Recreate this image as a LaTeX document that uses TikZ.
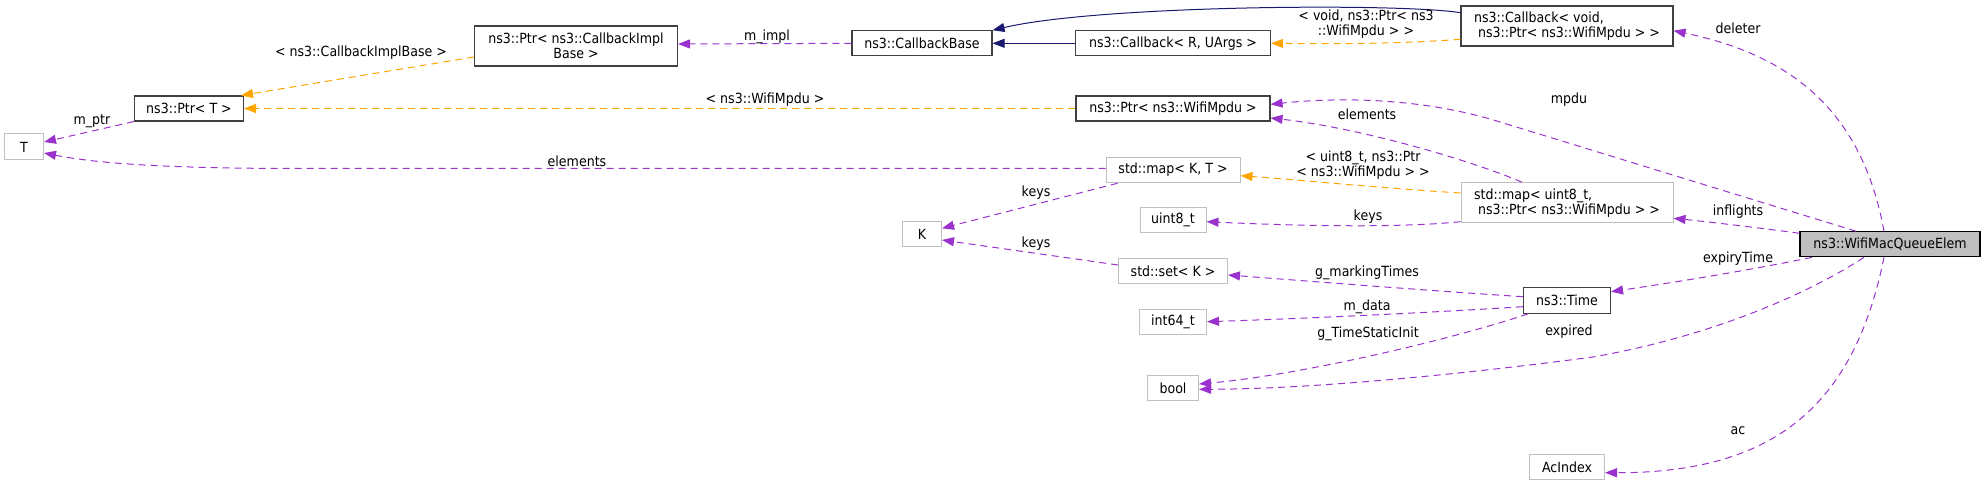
\documentclass[tikz,border=0pt]{standalone}
\usepackage{fontspec}
\setmainfont{DejaVu Sans}[FakeStretch=0.9]
\usepackage{tikz}
\usetikzlibrary{arrows.meta}

\definecolor{edgeviolet}{HTML}{9A32CD}
\definecolor{edgeorange}{HTML}{FFA500}
\definecolor{edgeblue}{HTML}{191970}
\definecolor{boxgrey}{HTML}{BFBFBF}
\definecolor{boxdark}{HTML}{404040}

\newcommand{\dgfont}{\fontsize{14}{15}\selectfont}

\tikzset{
  box/.style={draw=boxdark, line width=1.1pt, fill=white, inner sep=0pt, align=center, font=\dgfont},
  extbox/.style={box, draw=boxgrey, line width=1pt},
  mainbox/.style={box, draw=black, fill=boxgrey},
  lbl/.style={inner sep=0pt, align=center, font=\dgfont},
  uses/.style={draw=edgeviolet, line width=1pt, dash pattern=on 7pt off 5pt, -{Triangle[length=12pt,width=9pt]}},
  tmpl/.style={uses, draw=edgeorange},
  inh/.style={draw=edgeblue, line width=1pt, -{Triangle[length=12pt,width=9pt]}},
}

\begin{document}
\begin{tikzpicture}[x=1pt, y=-1pt]
    \useasboundingbox (0,0) rectangle (1985,486);

    % draw class boxes
    \node[extbox, minimum width=39pt, minimum height=26pt] (t) at (24,147) {T};
    \node[box, minimum width=109pt, minimum height=25pt] (ptrt) at (189,108.5) {ns3::Ptr< T >};
    \node[box, minimum width=203pt, minimum height=40pt] (cbimpl) at (576,46) {ns3::Ptr< ns3::CallbackImpl\\Base >};
    \node[box, minimum width=140pt, minimum height=25pt] (cbbase) at (922,43.3) {ns3::CallbackBase};
    \node[box, minimum width=195pt, minimum height=25pt] (cbru) at (1173,43.3) {ns3::Callback< R, UArgs >};
    \node[box, align=left, minimum width=212pt, minimum height=40pt] (cbvoid) at (1567,26) {ns3::Callback< void,\\\hspace{4pt}ns3::Ptr< ns3::WifiMpdu > >};
    \node[box, minimum width=194pt, minimum height=25pt] (ptrmpdu) at (1173,108.5) {ns3::Ptr< ns3::WifiMpdu >};
    \node[extbox, minimum width=134pt, minimum height=25.5pt] (mapkt) at (1173,170) {std::map< K, T >};
    \node[extbox, align=left, minimum width=212pt, minimum height=40pt] (mapu8) at (1567,202.7) {std::map< uint8\_t,\\\hspace{4pt}ns3::Ptr< ns3::WifiMpdu > >};
    \node[extbox, minimum width=66pt, minimum height=25.5pt] (u8) at (1173,220) {uint8\_t};
    \node[extbox, minimum width=39pt, minimum height=25.7pt] (k) at (922,234) {K};
    \node[extbox, minimum width=109pt, minimum height=25pt] (setk) at (1173,270.8) {std::set< K >};
    \node[extbox, minimum width=67pt, minimum height=25.3pt] (i64) at (1173,321.7) {int64\_t};
    \node[extbox, minimum width=51pt, minimum height=25.3pt] (bool) at (1173,388.3) {bool};
    \node[box, minimum width=87pt, minimum height=25.6pt] (time) at (1567,300.5) {ns3::Time};
    \node[mainbox, minimum width=180pt, minimum height=25pt] (elem) at (1890,244.3) {ns3::WifiMacQueueElem};
    \node[extbox, minimum width=75pt, minimum height=25.7pt] (acidx) at (1567,467) {AcIndex};

    % draw inheritance
    \draw[inh] (cbru.west) -- (cbbase.east);
    \draw[inh] ([yshift=13.3pt]cbvoid.west) .. controls (1400,3) and (1100,5) .. (cbbase.north east);

    % draw template instances
    \draw[tmpl] (ptrmpdu.west) -- (ptrt.east);
    \draw[tmpl] ([yshift=-11pt]cbimpl.west) -- ([xshift=-3pt]ptrt.north east);
    \draw[tmpl] ([yshift=-13.3pt]cbvoid.west) .. controls (1400,44) and (1330,44) .. (cbru.east);
    \draw[tmpl] ([yshift=9.7pt]mapu8.west) .. controls (1380,188) and (1300,180) .. ([yshift=-5.7pt]mapkt.east);

    % draw members
    \draw[uses] (ptrt.south west) -- ([yshift=5pt]t.east);
    \draw[uses] ([yshift=1.5pt]mapkt.west) -- (300,168.5) .. controls (150,168.5) and (90,162) .. ([yshift=-6pt]t.east);
    \draw[uses] (cbbase.west) -- ([yshift=2pt]cbimpl.east);
    \draw[uses] ([xshift=-55.5pt]mapkt.south) -- ([yshift=5.7pt]k.east);
    \draw[uses] ([yshift=5.8pt]setk.west) -- ([yshift=-6pt]k.east);
    \draw[uses] ([xshift=-45pt]mapu8.north) .. controls (1470,160) and (1360,128) .. ([yshift=-9.5pt]ptrmpdu.east);
    \draw[uses] ([yshift=-19pt]mapu8.west) .. controls (1400,228) and (1300,226) .. ([yshift=-1.7pt]u8.east);
    \draw[uses] ([yshift=3.8pt]time.west) .. controls (1420,290) and (1320,282) .. ([yshift=-4.2pt]setk.east);
    \draw[uses] ([yshift=-6.2pt]time.west) .. controls (1440,312) and (1320,318) .. (i64.east);
    \draw[uses] ([xshift=-39pt]time.south) .. controls (1450,340) and (1300,375) .. ([yshift=4.3pt]bool.east);
    \draw[uses] ([xshift=-6pt]elem.north) .. controls (1862,110) and (1790,55) .. ([yshift=-4.7pt]cbvoid.east);
    \draw[uses] ([xshift=-34pt]elem.north) -- (1500,122) .. controls (1430,100) and (1350,96) .. ([yshift=4.2pt]ptrmpdu.east);
    \draw[uses] ([yshift=11pt]elem.west) .. controls (1760,228) and (1710,222) .. ([yshift=-15.6pt]mapu8.east);
    \draw[uses] ([xshift=-78pt]elem.south) .. controls (1740,272) and (1670,283) .. ([yshift=8.8pt]time.east);
    \draw[uses] ([xshift=-26pt]elem.south) .. controls (1790,305) and (1690,340) .. (1593,357) .. controls (1480,372) and (1320,389) .. ([yshift=-1pt]bool.east);
    \draw[uses] ([xshift=-6pt]elem.south) .. controls (1855,400) and (1780,473) .. ([yshift=-5.7pt]acidx.east);

    % draw edge labels
    \node[lbl] (lbptr) at (92,121) {m\_ptr};
    \node[lbl] (lbelemt) at (577,161) {elements};
    \node[lbl] (lbcbimpl) at (361,53) {< ns3::CallbackImplBase >};
    \node[lbl] (lbwifi) at (765,100) {< ns3::WifiMpdu >};
    \node[lbl] (lbimpl) at (767,37) {m\_impl};
    \node[lbl] (lbkeysa) at (1036,193) {keys};
    \node[lbl] (lbkeysb) at (1036,244) {keys};
    \node[lbl] (lbvoid) at (1366,24.5) {< void, ns3::Ptr< ns3\\::WifiMpdu > >};
    \node[lbl] (lbelemm) at (1367,114) {elements};
    \node[lbl] (lbu8) at (1363,165.5) {< uint8\_t, ns3::Ptr\\< ns3::WifiMpdu > >};
    \node[lbl] (lbkeysc) at (1368,217) {keys};
    \node[lbl] (lbmark) at (1367,273) {g\_markingTimes};
    \node[lbl] (lbdata) at (1367,307) {m\_data};
    \node[lbl] (lbinit) at (1368,334) {g\_TimeStaticInit};
    \node[lbl] (lbdel) at (1738,28) {deleter};
    \node[lbl] (lbmpdu) at (1569,100) {mpdu};
    \node[lbl] (lbinfl) at (1738,212) {inflights};
    \node[lbl] (lbexpt) at (1738,259) {expiryTime};
    \node[lbl] (lbexpd) at (1569,332) {expired};
    \node[lbl] (lbac) at (1738,431) {ac};
\end{tikzpicture}
\end{document}
